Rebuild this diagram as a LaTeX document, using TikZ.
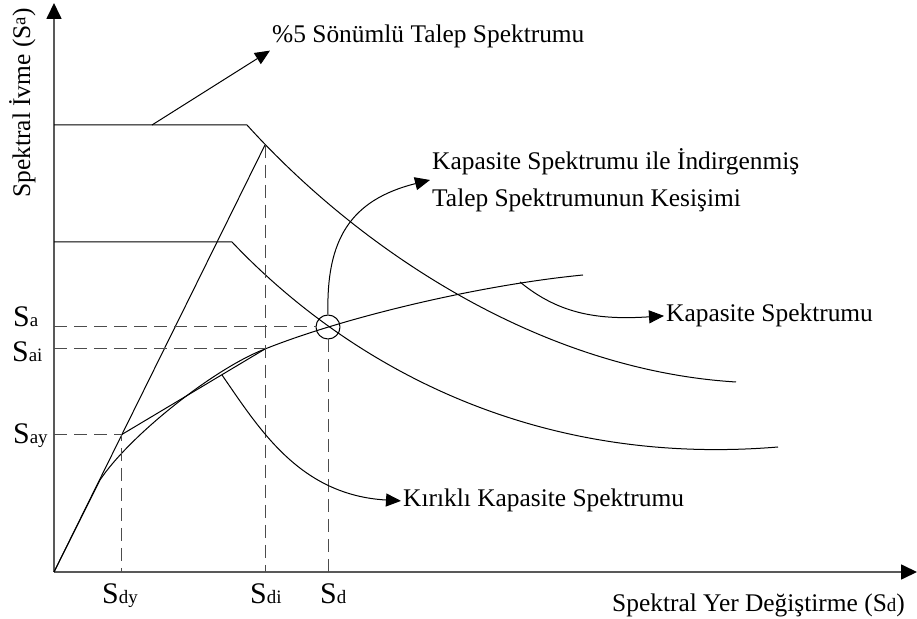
\documentclass[tikz,border=0pt]{standalone}
\usepackage{fontspec}
\setmainfont{Liberation Serif}
\usetikzlibrary{arrows.meta}
\newcommand{\lo}[1]{{\fontsize{19}{20}\selectfont #1}}
\tikzset{
  txt/.style={font=\fontsize{25.5}{30}\selectfont,inner sep=2bp},
  sym/.style={font=\fontsize{30}{32}\selectfont,inner sep=0bp,anchor=base west},
  axis/.style={black!65,line width=1.7bp,-{Triangle[length=16bp,width=15bp,black]}},
  curve/.style={black,line width=1bp},
  guide/.style={black!70,line width=1bp,dash pattern=on 13bp off 7bp},
}
\begin{document}
\begin{tikzpicture}[>={Triangle[length=15bp,width=13bp]},line join=bevel]
\useasboundingbox (0bp,0bp) rectangle (917bp,619bp);
%%
\coordinate (origin) at (54.0bp,47.0bp);
\coordinate (y_top) at (54.0bp,616.0bp);
\coordinate (x_end) at (917.0bp,47.0bp);
\coordinate (peak) at (265.0bp,474.0bp);
\coordinate (yield) at (121.0bp,184.0bp);
\coordinate (perf_i) at (265.0bp,270.0bp);
\coordinate (knee) at (100.0bp,139.0bp);
\coordinate (dmp_pt) at (152.0bp,494.0bp);
\coordinate (cap_pt) at (520.0bp,337.0bp);
\coordinate (bil_pt) at (222.0bp,244.0bp);
\node (perf) at (328.0bp,292.0bp) [draw,circle,minimum size=24bp,inner sep=0bp,line width=1bp] {};
%
\node (lbl_damp) at (270.0bp,576.0bp) [txt,anchor=base west] {\%5 Sönümlü Talep Spektrumu};
\node (lbl_cross) at (430.0bp,439.0bp) [txt,anchor=west,align=left,font=\fontsize{25.5}{37}\selectfont] {Kapasite Spektrumu ile İndirgenmiş\\Talep Spektrumunun Kesişimi};
\node (lbl_cap) at (664.0bp,297.0bp) [txt,anchor=base west] {Kapasite Spektrumu};
\node (lbl_bil) at (401.0bp,112.0bp) [txt,anchor=base west] {Kırıklı Kapasite Spektrumu};
\node (lbl_xax) at (610.0bp,8.0bp) [txt,anchor=base west] {Spektral Yer Değiştirme (S\lo{d})};
\node (lbl_yax) at (30.0bp,516.0bp) [txt,rotate=90,anchor=base] {Spektral İvme (S\raisebox{0.4ex}{\lo{a}})};
\node (lbl_sa) at (13.0bp,292.0bp) [sym] {S\lo{a}};
\node (lbl_sai) at (12.0bp,257.0bp) [sym] {S\lo{ai}};
\node (lbl_say) at (13.0bp,175.0bp) [sym] {S\lo{ay}};
\node (lbl_sdy) at (102.0bp,16.0bp) [sym] {S\lo{dy}};
\node (lbl_sdi) at (250.0bp,16.0bp) [sym] {S\lo{di}};
\node (lbl_sd) at (320.0bp,16.0bp) [sym] {S\lo{d}};
% axes
\draw [axis] (origin) -- (y_top);
\draw [axis] (origin) -- (x_end);
% demand spectra
\draw [curve] (origin |- dmp_pt) -- (247.0bp,494.0bp) .. controls (360.0bp,369.0bp) and (540.0bp,249.0bp) .. (736.0bp,237.0bp);
\draw [curve] (54.0bp,377.0bp) -- (232.0bp,377.0bp) .. controls (320.0bp,284.0bp) and (500.0bp,149.0bp) .. (778.0bp,172.0bp);
% capacity spectrum
\draw [curve] (origin) -- (knee) .. controls (130.0bp,184.0bp) and (215.0bp,251.0bp) .. (perf_i) .. controls (345.0bp,302.0bp) and (480.0bp,334.0bp) .. (583.0bp,344.0bp);
\draw [curve] (origin) -- (peak);
\draw [curve] (yield) -- (perf_i);
% guides
\draw [guide] (origin |- perf) -- (perf.west);
\draw [guide] (origin |- perf_i) -- (perf_i);
\draw [guide] (origin |- yield) -- (yield) -- (yield |- origin);
\draw [guide] (peak) -- (peak |- origin);
\draw [guide] (perf.south) -- (perf |- origin);
% labels
\draw [curve,->] (dmp_pt) -- (lbl_damp.south west);
\draw [curve,->] (perf.north) .. controls (326.0bp,379.0bp) and (350.0bp,419.0bp) .. (lbl_cross.west);
\draw [curve,->] (cap_pt) .. controls (560.0bp,304.0bp) and (600.0bp,299.0bp) .. (lbl_cap.west);
\draw [curve,->] (bil_pt) .. controls (260.0bp,189.0bp) and (300.0bp,124.0bp) .. (lbl_bil.west);
%
\end{tikzpicture}
\end{document}
